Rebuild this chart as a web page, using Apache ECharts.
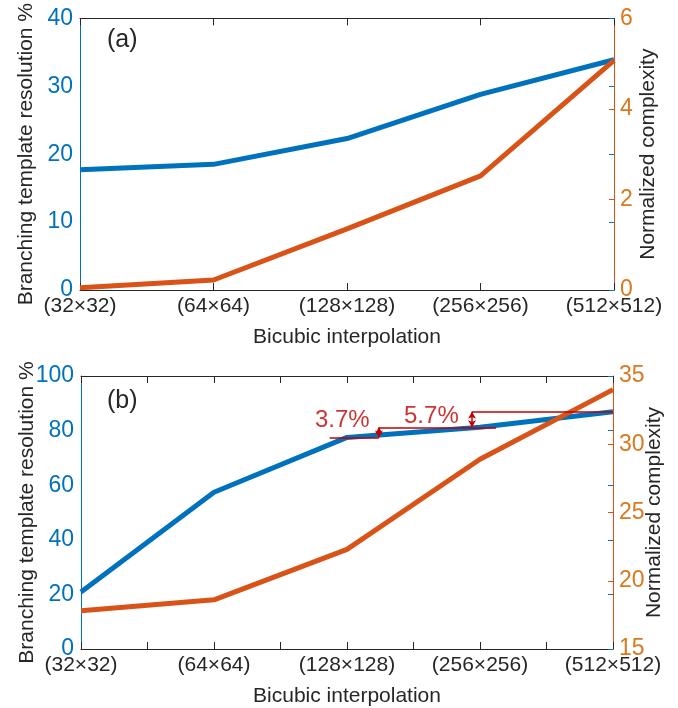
<!DOCTYPE html>
<html>
<head>
<meta charset="utf-8">
<script src="https://cdn.jsdelivr.net/npm/echarts/dist/echarts.min.js"></script>
<style>
  html, body { margin: 0; padding: 0; background: #fff; }
  #chart { width: 678px; height: 708px; }
</style>
</head>
<body>
<div id="chart"></div>
<script>
// Input sizes for the bicubic interpolation step
const categories = ['(32×32)', '(64×64)', '(128×128)', '(256×256)', '(512×512)'];

// Panel (a)
const resolutionA = [17.7, 18.5, 22.3, 28.8, 33.9];
const complexityA = [0.05, 0.22, 1.35, 2.52, 5.07];
const leftTicksA = [0, 10, 20, 30, 40];
const rightTicksA = [0, 2, 4, 6];

// Panel (b)
const resolutionB = [20.9, 57.4, 77.5, 81.2, 86.9];
const complexityB = [17.8, 18.6, 22.3, 28.9, 34.0];
const leftTicksB = [0, 20, 40, 60, 80, 100];
const rightTicksB = [15, 20, 25, 30, 35];

const BLUE = '#0072BD';
const ORANGE = '#D95319';
const ORANGE_TXT = '#D9781E';
const INK = '#262626';
const RED = '#C00000';
const FONT = '"Liberation Sans", Arial, Helvetica, sans-serif';

const pairs = vals => vals.map((v, i) => [i, v]);
const range = ticks => ({ min: ticks[0], max: ticks[ticks.length - 1], interval: ticks[1] - ticks[0] });

function xAxis(gridIndex, step, position) {
  const bottom = position === 'bottom';
  return {
    type: 'value', gridIndex, position, min: 0, max: categories.length - 1, interval: step,
    axisLine: { show: true, onZero: false, lineStyle: { color: INK, width: 1 } },
    axisTick: { show: true, inside: true, length: 7, lineStyle: { color: INK, width: 1 } },
    splitLine: { show: false },
    axisLabel: bottom ? {
      show: true, margin: 6, color: INK, fontFamily: FONT, fontSize: 21,
      showMinLabel: true, showMaxLabel: true,
      formatter: v => Number.isInteger(v) ? categories[v] : ''
    } : { show: false },
    name: bottom ? 'Bicubic interpolation' : '',
    nameLocation: 'middle', nameGap: 37, nameMoveOverlap: false,
    nameTextStyle: { color: INK, fontFamily: FONT, fontSize: 21 }
  };
}

function leftAxis(gridIndex, ticks, nameGap) {
  return Object.assign({
    type: 'value', gridIndex, position: 'left',
    axisLine: { show: true, onZero: false, lineStyle: { color: BLUE, width: 1 } },
    axisTick: { show: false },
    splitLine: { show: false },
    axisLabel: { show: true, margin: 7, color: BLUE, fontFamily: FONT, fontSize: 23,
      showMinLabel: true, showMaxLabel: true },
    name: 'Branching template resolution %', nameLocation: 'middle', nameRotate: 90, nameGap,
    nameMoveOverlap: false,
    nameTextStyle: { color: INK, fontFamily: FONT, fontSize: 21 }
  }, range(ticks));
}

function rightAxis(gridIndex, ticks, nameGap) {
  return Object.assign({
    type: 'value', gridIndex, position: 'right',
    axisLine: { show: true, onZero: false, lineStyle: { color: ORANGE, width: 1 } },
    axisTick: { show: true, inside: true, length: 5, lineStyle: { color: ORANGE, width: 1 } },
    splitLine: { show: false },
    axisLabel: { show: true, margin: 6, color: ORANGE_TXT, fontFamily: FONT, fontSize: 23,
      showMinLabel: true, showMaxLabel: true },
    name: 'Normalized complexity', nameLocation: 'middle', nameRotate: 90, nameGap,
    nameMoveOverlap: false,
    nameTextStyle: { color: INK, fontFamily: FONT, fontSize: 21 }
  }, range(ticks));
}

// Left-axis ticks repeated on the right edge of the box
function mirrorTicks(gridIndex, ticks) {
  return Object.assign({
    type: 'value', gridIndex, position: 'right',
    axisLine: { show: false, onZero: false },
    axisTick: { show: true, inside: true, length: 5, lineStyle: { color: BLUE, width: 1 } },
    axisLabel: { show: false },
    splitLine: { show: false }
  }, range(ticks));
}

function curve(xAxisIndex, yAxisIndex, vals, color) {
  return {
    type: 'line', xAxisIndex, yAxisIndex, data: pairs(vals),
    showSymbol: false, symbol: 'none', silent: true, animation: false,
    lineStyle: { color, width: 5, cap: 'butt', join: 'round' }
  };
}

// Gap annotations in panel (b)
const gapA = +(resolutionB[3] - resolutionB[2]).toFixed(1);
const gapB = +(resolutionB[4] - resolutionB[3]).toFixed(1);
const arrowX1 = 2.24, arrowX2 = 2.94;
const seg = (x1, y1, x2, y2, arrows) => {
  const s = [{ coord: [x1, y1] }, { coord: [x2, y2] }];
  if (arrows) { s[0].symbol = 'arrow'; s[1].symbol = 'arrow'; }
  return s;
};

const annotation = {
  type: 'line', xAxisIndex: 2, yAxisIndex: 3, data: [], silent: true, animation: false,
  markLine: {
    silent: true, animation: false, symbol: ['none', 'none'], symbolSize: [6, 7],
    label: { show: false },
    lineStyle: { color: RED, width: 1.5, type: 'solid' },
    emphasis: { disabled: true },
    data: [
      seg(1.87, resolutionB[2], arrowX1, resolutionB[2]),
      seg(arrowX1, resolutionB[2], arrowX1, resolutionB[3], true),
      seg(arrowX1, resolutionB[3], 3.12, resolutionB[3]),
      seg(arrowX2, resolutionB[3], arrowX2, resolutionB[4], true),
      seg(arrowX2, resolutionB[4], 4, resolutionB[4])
    ]
  }
};

const gapLabels = {
  type: 'scatter', xAxisIndex: 2, yAxisIndex: 3, symbolSize: 0, silent: true, animation: false,
  data: [
    { value: [2.17, resolutionB[3]], text: gapA.toFixed(1) + '%', dy: -7 },
    { value: [2.84, resolutionB[4]], text: gapB.toFixed(1) + '%', dy: 5 }
  ].map(d => ({
    value: d.value,
    label: { show: true, position: [0, 0], offset: [0, d.dy], align: 'right', verticalAlign: 'middle',
      formatter: d.text, color: RED, fontFamily: FONT, fontSize: 24 }
  }))
};

const chart = echarts.init(document.getElementById('chart'), null, { renderer: 'canvas' });
chart.setOption({
  backgroundColor: '#ffffff',
  animation: false,
  grid: [
    { left: 80, right: 64, top: 14, bottom: 418 },
    { left: 81, right: 65, top: 376, bottom: 59 }
  ],
  xAxis: [
    xAxis(0, 1, 'bottom'), xAxis(0, 1, 'top'),
    xAxis(1, 0.5, 'bottom'), xAxis(1, 0.5, 'top')
  ],
  yAxis: [
    leftAxis(0, leftTicksA, 43), rightAxis(0, rightTicksA, 24), mirrorTicks(0, leftTicksA),
    leftAxis(1, leftTicksB, 43), rightAxis(1, rightTicksB, 31), mirrorTicks(1, leftTicksB)
  ],
  series: [
    curve(0, 0, resolutionA, BLUE),
    curve(0, 1, complexityA, ORANGE),
    curve(2, 3, resolutionB, BLUE),
    curve(2, 4, complexityB, ORANGE),
    annotation,
    gapLabels
  ],
  graphic: [
    { type: 'text', left: 107, top: 28, style: { text: '(a)', fill: INK, font: '25px ' + FONT } },
    { type: 'text', left: 107, top: 389, style: { text: '(b)', fill: INK, font: '25px ' + FONT } }
  ]
});
</script>
</body>
</html>
